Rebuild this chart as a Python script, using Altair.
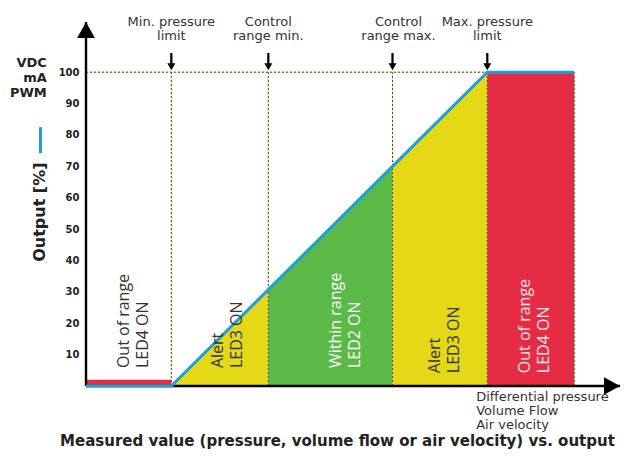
import altair as alt
import pandas as pd

# ---------------- data ----------------
# measured value axis: 0 = min. pressure limit, 100 = max. pressure limit
x_min, x_max = -27, 142          # axis extent
y_min, y_max = 0, 116            # output axis extent
red_end = 127.5                  # right end of the upper "out of range" block

line_x = [-27, 0, 30.7, 70, 100, 127.5]
line_y = [0, 0, 30.7, 70, 100, 100]

marker_x = [0, 30.7, 70, 100]
top_labels = ["Min. pressure\nlimit", "Control\nrange min.",
              "Control\nrange max.", "Max. pressure\nlimit"]

area_seg = ["a", "a", "b", "b", "c", "c"]
area_x = [0, 30.7, 30.7, 70, 70, 100]
area_y = [0, 30.7, 30.7, 70, 70, 100]
area_col = ["#e5d817", "#e5d817", "#5bb947", "#5bb947", "#e5d817", "#e5d817"]

rect_x = [-27, 100]
rect_x2 = [0, 127.5]
rect_y = [0, 0]
rect_y2 = [2, 100]
rect_col = ["#e62c45", "#e62c45"]

region_labels = ["Out of range\nLED4 ON", "Alert\nLED3 ON", "Within range\nLED2 ON",
                 "Alert\nLED3 ON", "Out of range\nLED4 ON"]
region_label_x = [-13.5, 16.2, 53.6, 85.1, 113.6]
region_label_y = [5.7, 5.7, 5.7, 4.1, 4.1]
region_label_col = ["#333333", "#333333", "#ffffff", "#333333", "#fbe6e9"]

y_ticks = [10, 20, 30, 40, 50, 60, 70, 80, 90, 100]

unit_lines = ["VDC", "mA", "PWM"]
x_desc_lines = ["Differential pressure", "Volume Flow", "Air velocity"]
y_title = "Output [%]"
bottom_title = "Measured value (pressure, volume flow or air velocity) vs. output"

BLUE = "#1e9fd8"
TXT = "#333333"
BOLD = "DejaVu Sans"

# ---------------- encodings ----------------
xs = alt.Scale(domain=[x_min, x_max], nice=False, zero=False)
ys = alt.Scale(domain=[y_min, y_max], nice=False, zero=False)
yaxis = alt.Axis(values=y_ticks, domain=False, ticks=False, grid=False, title=None,
                 labelFont=BOLD, labelFontWeight="bold", labelFontSize=10,
                 labelColor="#222222", labelPadding=7)


def X(f):
    return alt.X(f, type="quantitative", scale=xs, axis=None)


def Y(f):
    return alt.Y(f, type="quantitative", scale=ys, stack=None, axis=yaxis)


# ---------------- tables ----------------
df_line = pd.DataFrame({"x": line_x, "y": line_y})
df_area = pd.DataFrame({"x": area_x, "y": area_y, "seg": area_seg, "c": area_col})
df_rect = pd.DataFrame({"x": rect_x, "x2": rect_x2, "y": rect_y, "y2": rect_y2, "c": rect_col})
df_v = pd.DataFrame({"x": marker_x + [red_end], "y": [0] * 5, "y2": [100] * 5})
df_h = pd.DataFrame({"x": [x_min], "x2": [100], "y": [100]})
df_mark = pd.DataFrame({"x": marker_x, "y": [100] * 4, "t": top_labels, "ty": [114.8] * 4})
df_reg = pd.DataFrame({"x": region_label_x, "y": region_label_y, "t": region_labels,
                       "c": region_label_col})
df_axes_v = pd.DataFrame({"x": [x_min], "y": [y_min], "y2": [y_max]})
df_axes_h = pd.DataFrame({"x": [x_min], "x2": [x_max], "y": [y_min]})
df_arrow_y = pd.DataFrame({"x": [x_min], "y": [y_max]})
df_arrow_x = pd.DataFrame({"x": [x_max], "y": [y_min]})
df_units = pd.DataFrame({"x": [-39.4], "y": [101.7], "t": ["\n".join(unit_lines)]})
df_ytitle = pd.DataFrame({"x": [-41.6], "y": [55.4], "t": [y_title]})
df_leg = pd.DataFrame({"x": [-41.4], "y": [74.2], "y2": [82.5]})
df_xdesc = pd.DataFrame({"x": [96.5], "y": [-4.8], "t": ["\n".join(x_desc_lines)]})
df_btitle = pd.DataFrame({"x": [-35.2], "y": [-19.0], "t": [bottom_title]})

# ---------------- layers ----------------
dash_under_v = alt.Chart(df_v).mark_rule(color="#ebe39b", strokeWidth=1).encode(
    x=X("x"), y=Y("y"), y2="y2")
dash_under_h = alt.Chart(df_h).mark_rule(color="#ebe39b", strokeWidth=1).encode(
    x=X("x"), x2="x2", y=Y("y"))

areas = alt.Chart(df_area).mark_area(opacity=1).encode(
    x=X("x"), y=Y("y"), detail="seg:N", color=alt.Color("c:N", scale=None))
rects = alt.Chart(df_rect).mark_rect(opacity=1).encode(
    x=X("x"), x2="x2", y=Y("y"), y2="y2", color=alt.Color("c:N", scale=None))

dash_v = alt.Chart(df_v).mark_rule(color="#4a4a3a", strokeWidth=1, strokeDash=[2, 2]).encode(
    x=X("x"), y=Y("y"), y2="y2")
dash_h = alt.Chart(df_h).mark_rule(color="#4a4a3a", strokeWidth=1, strokeDash=[2, 2]).encode(
    x=X("x"), x2="x2", y=Y("y"))

axis_v = alt.Chart(df_axes_v).mark_rule(color="black", strokeWidth=2.4).encode(
    x=X("x"), y=Y("y"), y2="y2")
axis_h = alt.Chart(df_axes_h).mark_rule(color="black", strokeWidth=2.4).encode(
    x=X("x"), x2="x2", y=Y("y"))

blue = alt.Chart(df_line).mark_line(color=BLUE, strokeWidth=3, strokeCap="butt").encode(
    x=X("x"), y=Y("y"))

arrow_up = alt.Chart(df_arrow_y).mark_point(
    shape="M0,0L-1.1,2L1.1,2Z", size=256, filled=True, color="black", opacity=1, strokeWidth=0
).encode(x=X("x"), y=Y("y"))
arrow_right = alt.Chart(df_arrow_x).mark_point(
    shape="M0,0L-2,-1.1L-2,1.1Z", size=256, filled=True, color="black", opacity=1, strokeWidth=0
).encode(x=X("x"), y=Y("y"))
down_arrows = alt.Chart(df_mark).mark_point(
    shape="M-0.14,-2.4L0.14,-2.4L0.14,-1.12L0.5,-1.12L0,-0.25L-0.5,-1.12L-0.14,-1.12Z",
    size=256, filled=True, color="black", opacity=1, strokeWidth=0
).encode(x=X("x"), y=Y("y"))

top_text_kw = dict(font="DejaVu Sans", fontSize=13, color=TXT, align="center",
                   baseline="alphabetic", lineBreak="\n", lineHeight=14.5)
top_txt = alt.Chart(df_mark).transform_filter(alt.datum.x != 70).mark_text(**top_text_kw).encode(
    x=X("x"), y=Y("ty"), text="t:N")
top_txt2 = alt.Chart(df_mark).transform_filter(alt.datum.x == 70).mark_text(dx=6, **top_text_kw).encode(
    x=X("x"), y=Y("ty"), text="t:N")

reg_txt = alt.Chart(df_reg).mark_text(
    font="Open Sans", fontSize=16, angle=270, align="left", baseline="alphabetic",
    lineBreak="\n", lineHeight=19
).encode(x=X("x"), y=Y("y"), text="t:N", color=alt.Color("c:N", scale=None))

units = alt.Chart(df_units).mark_text(
    font=BOLD, fontWeight="bold", fontSize=13, color="#222222", align="right",
    baseline="alphabetic", lineBreak="\n", lineHeight=15
).encode(x=X("x"), y=Y("y"), text="t:N")

ytitle = alt.Chart(df_ytitle).mark_text(
    font=BOLD, fontWeight="bold", fontSize=16, color="#222222", angle=270,
    align="center", baseline="middle"
).encode(x=X("x"), y=Y("y"), text="t:N")

legend_line = alt.Chart(df_leg).mark_rule(color=BLUE, strokeWidth=3).encode(
    x=X("x"), y=Y("y"), y2="y2")

xdesc = alt.Chart(df_xdesc).mark_text(
    font="DejaVu Sans", fontSize=13, color=TXT, align="left", baseline="alphabetic",
    lineBreak="\n", lineHeight=14
).encode(x=X("x"), y=Y("y"), text="t:N")

btitle = alt.Chart(df_btitle).mark_text(
    font=BOLD, fontWeight="bold", fontSize=15, color="#222222", align="left",
    baseline="alphabetic"
).encode(x=X("x"), y=Y("y"), text="t:N")

chart = alt.layer(
    dash_under_v, dash_under_h, areas, rects, dash_v, dash_h, axis_v, axis_h, blue,
    arrow_up, arrow_right, down_arrows, top_txt, top_txt2, reg_txt, units, ytitle,
    legend_line, xdesc, btitle
).properties(
    width=534, height=364, autosize="none",
    padding={"left": 78, "top": 14, "right": 0, "bottom": 63}
).configure_view(stroke=None)

chart.save("out.html", embed_options={"renderer": "svg", "actions": False})
